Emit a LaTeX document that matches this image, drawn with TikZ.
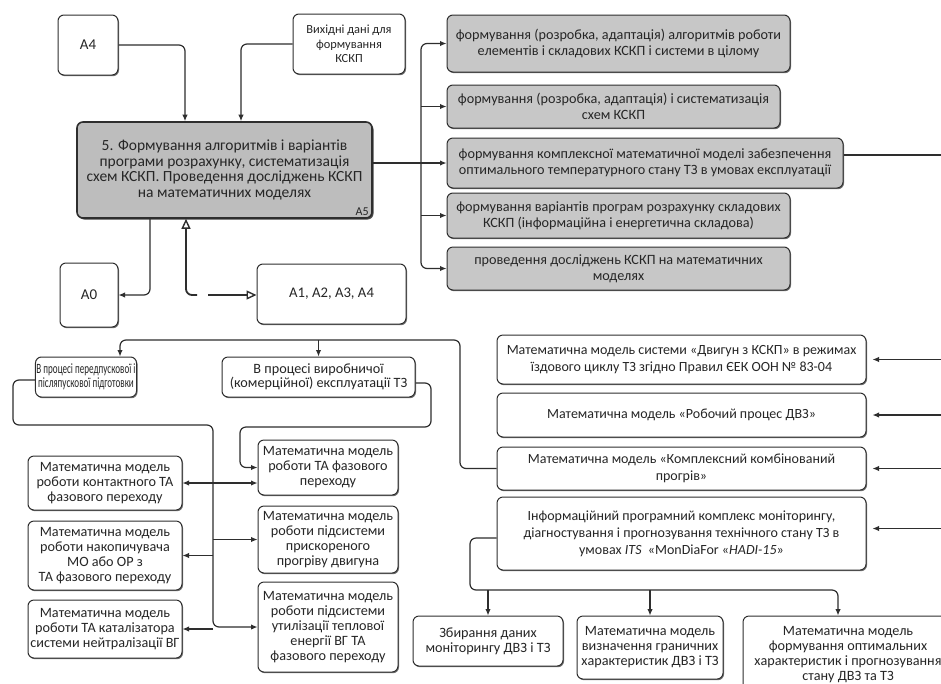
\documentclass[tikz,border=0pt]{standalone}
\usepackage{fontspec}
\setmainfont{Carlito}
\newfontfamily\narrowfont[FakeStretch=0.64]{Carlito}
\usetikzlibrary{arrows.meta,shadows}

\newcommand{\fs}[2]{\fontsize{#1}{#2}\selectfont}

\begin{document}
\begin{tikzpicture}[x=1pt,y=-1pt,
  box/.style={draw=black!82, line width=1pt, rounded corners=6pt, align=center,
    inner sep=1pt, text=black!85, fill=white,
    drop shadow={shadow xshift=1pt, shadow yshift=-1.2pt, fill=black!55, opacity=1}},
  graybox/.style={box, fill=black!22},
  mainbox/.style={box, fill=black!26, line width=1.6pt,
    drop shadow={shadow xshift=1.5pt, shadow yshift=-1.5pt, fill=black!70, opacity=1}},
  link/.style={draw=black!82, line width=1.2pt, rounded corners=6pt},
  arr/.style={link, -{Latex[length=6.5pt,width=5.5pt]}},
  tri/.style={draw=black!82, line width=1.8pt, rounded corners=6pt,
    -{Triangle[open,length=10pt,width=9pt,line width=1.4pt]}},
  gtxt/.style={font=\fs{14.2}{16}},
  mtxt/.style={font=\fs{14}{17}},
  ltxt/.style={font=\fs{14.2}{15}},
]
\useasboundingbox (0,0) rectangle (941,683);
\fill[white] (0,0) rectangle (941,683);

% ---- upper block: inputs and process A5 ----
\node[box, minimum width=60pt, minimum height=60pt, font=\fs{15}{18}] (A4) at (88,45) {A4};
\node[box, minimum width=112pt, minimum height=60pt, font=\fs{12.4}{14.5}] (vyh) at (349,44)
  {Вихідні дані для\\формування\\КСКП};
\node[mainbox, minimum width=295pt, minimum height=96pt, font=\fs{15.5}{15.5}] (A5) at (224.5,170)
  {5. Формування алгоритмів і варіантів\\програми розрахунку, систематизація\\схем КСКП. Проведення досліджень КСКП\\на математичних моделях};
\node[font=\fs{12}{13}, text=black!85, anchor=south east, inner sep=0pt] (A5lab) at ([xshift=-4pt,yshift=3pt]A5.south east) {A5};

\node[box, minimum width=58pt, minimum height=64pt, font=\fs{15}{18}] (A0) at (89,295) {A0};
\node[box, minimum width=149pt, minimum height=60pt, font=\fs{14.7}{18}] (A1) at (331.5,294) {A1, A2, A3, A4};

% ---- results of A5 ----
\node[graybox, gtxt, minimum width=343pt, minimum height=57pt] (g1) at (618.5,43.5)
  {формування (розробка, адаптація) алгоритмів роботи\\елементів і складових КСКП і системи в цілому};
\node[graybox, gtxt, minimum width=333pt, minimum height=43pt] (g2) at (613.5,106.5)
  {формування (розробка, адаптація) і систематизація\\схем КСКП};
\node[graybox, gtxt, minimum width=396pt, minimum height=50pt] (g3) at (645,163)
  {формування комплексної математичної моделі забезпечення\\оптимального температурного стану ТЗ в умовах експлуатації};
\node[graybox, gtxt, minimum width=343pt, minimum height=45pt] (g4) at (618.5,215.5)
  {формування варіантів програм розрахунку складових\\КСКП (інформаційна і енергетична складова)};
\node[graybox, gtxt, minimum width=343pt, minimum height=43pt] (g5) at (618.5,268.5)
  {проведення досліджень КСКП на математичних\\моделях};

% ---- operating modes ----
\node[box, minimum width=98pt, minimum height=40pt, font=\narrowfont\fs{14.2}{14.5}] (p1) at (86,377)
  {В процесі передпускової і\\післяпускової підготовки};
\node[box, minimum width=193pt, minimum height=40pt, font=\fs{14.2}{14.5}] (p2) at (318.5,377)
  {В процесі виробничої\\(комерційної) експлуатації ТЗ};

% ---- mathematical models (right) ----
\node[box, mtxt, minimum width=369pt, minimum height=49pt] (m1) at (681.5,359.5)
  {Математична модель системи «Двигун з КСКП» в режимах\\їздового циклу ТЗ згідно Правил ЄЕК ООН № 83-04};
\node[box, mtxt, minimum width=369pt, minimum height=44pt] (m2) at (681.5,415)
  {Математична модель «Робочий процес ДВЗ»};
\node[box, mtxt, minimum width=369pt, minimum height=43pt] (m3) at (681.5,468.5)
  {Математична модель «Комплексний комбінований\\прогрів»};
\node[box, mtxt, minimum width=369pt, minimum height=73pt] (m4) at (681.5,533.5)
  {Інформаційний програмний комплекс моніторингу,\\діагностування і прогнозування технічного стану ТЗ в\\умовах \textit{ITS}\ \ «MonDiaFor «\textit{HADI-15}»};

% ---- mathematical models (left) ----
\node[box, ltxt, minimum width=154pt, minimum height=54pt] (l1) at (105,483)
  {Математична модель\\роботи контактного ТА\\фазового переходу};
\node[box, ltxt, minimum width=154pt, minimum height=69pt] (l2) at (105,555.5)
  {Математична модель\\роботи накопичувача\\МО або ОР з\\ТА фазового переходу};
\node[box, ltxt, minimum width=154pt, minimum height=58pt] (l3) at (105,629)
  {Математична модель\\роботи ТА каталізатора\\системи нейтралізації ВГ};
\node[box, ltxt, minimum width=140pt, minimum height=55pt] (c1) at (328,467.5)
  {Математична модель\\роботи ТА фазового\\переходу};
\node[box, ltxt, minimum width=140pt, minimum height=67pt] (c2) at (328,539.5)
  {Математична модель\\роботи підсистеми\\прискореного\\прогріву двигуна};
\node[box, ltxt, minimum width=140pt, minimum height=90pt] (c3) at (328,627)
  {Математична модель\\роботи підсистеми\\утилізації теплової\\енергії ВГ ТА\\фазового переходу};

% ---- monitoring outputs ----
\node[box, ltxt, minimum width=150pt, minimum height=50pt] (b1) at (488,641)
  {Збирання даних\\моніторингу ДВЗ і ТЗ};
\node[box, ltxt, minimum width=146pt, minimum height=63pt] (b2) at (650,647.5)
  {Математична модель\\визначення граничних\\характеристик ДВЗ і ТЗ};
\node[box, ltxt, minimum width=210pt, minimum height=78pt] (b3) at (848,655)
  {Математична модель\\формування оптимальних\\характеристик і прогнозування\\стану ДВЗ та ТЗ};

% ---- helper points for buses ----
\coordinate (rEdge) at (941,0);
\coordinate (bus) at (421,163);
\coordinate (t1) at (197,295);
\coordinate (t2) at (208,295);
\coordinate (busTop) at (460,340);
\coordinate (lb) at (13,425);
\coordinate (vb) at (213,425);
\coordinate (rb) at (431,427);
\coordinate (cb) at (240,427);
\coordinate (bb) at (470,590);
\coordinate (g3out) at ([yshift=8pt]g3.east);

% ---- connectors: inputs to A5 ----
\draw[arr] (A4.east) -| ([xshift=-39.5pt]A5.north);
\draw[arr] (vyh.west) -| ([xshift=16.5pt]A5.north);

% ---- A5 to its results ----
\draw[link] (A5.east |- bus) -- (bus);
\draw[arr] (bus) |- (g1.west);
\draw[arr] (bus |- g2.west) -- (g2.west);
\draw[arr] (bus) -- (g3.west);
\draw[arr] (bus |- g4.west) -- (g4.west);
\draw[arr] (bus) |- (g5.west);
\draw[link] (g3out) -- (g3out -| rEdge);

% ---- A5 to A0 and the A1..A4 link ----
\draw[arr] ([xshift=-74.5pt]A5.south) |- (A0.east);
\draw[tri] (t1) -| ([xshift=-38.5pt]A5.south);
\draw[tri] (t2) -- (A1.west |- t2);

% ---- combined warm-up model to operating modes ----
\draw[arr] (m3.west) -| (busTop) -| ([xshift=34pt]p1.north);
\draw[arr] (busTop -| p2.north) -- (p2.north);

% ---- pre-start branch ----
\draw[arr] ([yshift=-3pt]p1.west) -| (lb) -| (vb |- c3.west) -- (c3.west);
\draw[arr] (vb |- l1.east) -- (l1.east);
\draw[arr] (vb |- l1.east) -- (c1.west |- l1.east);
\draw[arr] (vb |- l2.east) -- (l2.east);
\draw[arr] (vb |- c2.west) -- (c2.west);
\draw[arr] (vb |- l3.east) -- (l3.east);

% ---- operation branch ----
\draw[arr] ([yshift=-6pt]p2.east) -| (rb) -| (cb |- c1.west) -- (c1.west);

% ---- inputs from the right ----
\draw[arr, shorten >=6pt] (m1.east -| rEdge) -- (m1.east);
\draw[arr, shorten >=6pt] (m2.east -| rEdge) -- (m2.east);
\draw[arr, shorten >=6pt] (m3.east -| rEdge) -- (m3.east);
\coordinate (m4in) at ([yshift=5pt]m4.east);
\draw[arr, shorten >=6pt] (m4in -| rEdge) -- (m4in);

% ---- monitoring complex to its outputs ----
\draw[arr] ([yshift=-4.5pt]m4.west) -| (bb) -| ([xshift=-10pt]b3.north);
\draw[arr] (bb -| b1.north) -- (b1.north);
\draw[arr] (bb -| b2.north) -- (b2.north);
\end{tikzpicture}
\end{document}
